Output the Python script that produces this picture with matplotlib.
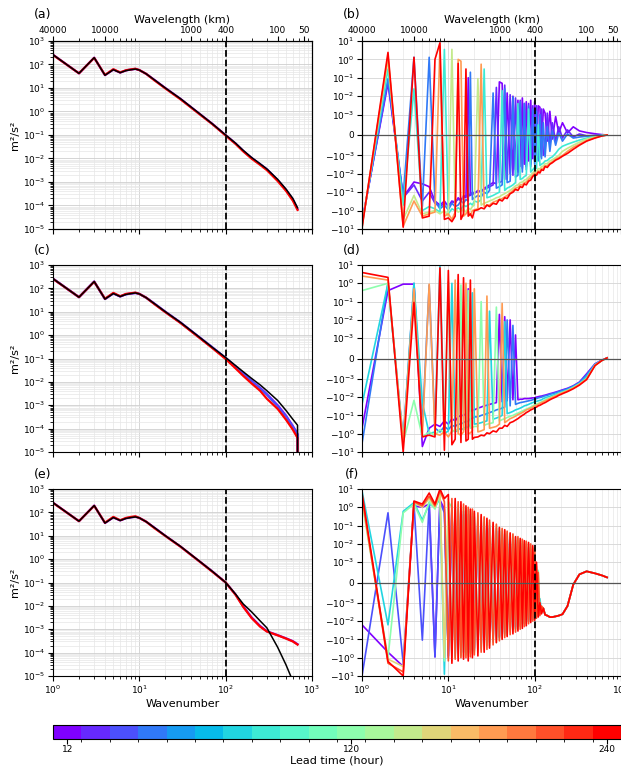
import numpy as np
import matplotlib
matplotlib.use('Agg')
from matplotlib import pyplot as plt
from matplotlib.colors import ListedColormap, BoundaryNorm
from matplotlib.cm import ScalarMappable
from matplotlib.ticker import NullLocator, NullFormatter

# lead times shown on the colour bar (hours)
lead_hours = [12, 24, 36, 48, 60, 72, 84, 96, 108, 120,
              132, 144, 156, 168, 180, 192, 204, 216, 228, 240]

# ---- left column: spectra (m2/s2) ----
k_left = [1, 2, 3, 4, 5, 6, 7, 8, 9, 10, 12, 15, 20, 30, 50, 70, 100,
          130, 160, 200, 250, 300, 400, 500, 600, 680]
ref_a = [260, 42, 195, 35, 60, 45, 55, 60, 64, 58, 40, 22, 10, 3.5, 0.8, 0.3, 0.1,
         0.045, 0.022, 0.011, 0.006, 0.0036, 0.0013, 0.0005, 0.0002, 0.00008]
a_12 = [260, 42, 195, 35, 61, 45, 56, 61, 65, 58, 40, 22, 10, 3.45, 0.79, 0.3, 0.098,
        0.044, 0.021, 0.0105, 0.0058, 0.0035, 0.0012, 0.00046, 0.00018, 0.00007]
a_240 = [255, 42, 192, 36, 63, 46, 57, 62, 66, 58, 40, 21, 9.6, 3.3, 0.76, 0.29, 0.095,
         0.042, 0.02, 0.0098, 0.0054, 0.0032, 0.0011, 0.00042, 0.00016, 0.000065]

k_c = k_left + [681]
ref_c = [260, 42, 195, 35, 60, 45, 55, 60, 64, 58, 40, 22, 10, 3.5, 0.8, 0.3, 0.11,
         0.05, 0.027, 0.014, 0.0075, 0.0042, 0.0016, 0.0006, 0.00025, 0.00014, 0.000001]
c_12 = [260, 42, 195, 35, 61, 45, 56, 60, 64, 58, 40, 22, 10, 3.45, 0.79, 0.3, 0.105,
        0.046, 0.023, 0.011, 0.0056, 0.003, 0.001, 0.00036, 0.00013, 0.00006, 0.000001]
c_36 = [260, 42, 195, 35, 61, 45, 56, 60, 64, 58, 40, 22, 10, 3.45, 0.79, 0.3, 0.103,
        0.045, 0.022, 0.0105, 0.0053, 0.0028, 0.0009, 0.00033, 0.00012, 0.000055, 0.000001]
c_240 = [255, 42, 192, 36, 64, 46, 58, 62, 66, 58, 40, 21, 9.6, 3.3, 0.75, 0.28, 0.095,
         0.038, 0.018, 0.0085, 0.0042, 0.0019, 0.0007, 0.00024, 0.00009, 0.00004, 0.000001]

ref_e = [260, 42, 195, 35, 60, 45, 55, 60, 64, 58, 40, 22, 10, 3.5, 0.8, 0.3, 0.1,
         0.032, 0.012, 0.0055, 0.0023, 0.00115, 0.00017, 0.00003, 0.000006, 0.000002]
e_12 = [260, 42, 195, 35, 61, 45, 56, 61, 65, 58, 40, 22, 10, 3.45, 0.79, 0.3, 0.1,
        0.031, 0.0095, 0.0032, 0.0014, 0.00082, 0.00056, 0.00041, 0.00031, 0.00023]
e_240 = [255, 42, 192, 36, 64, 46, 58, 64, 68, 58, 40, 21, 9.8, 3.4, 0.78, 0.29, 0.1,
         0.03, 0.009, 0.003, 0.0013, 0.0008, 0.00055, 0.0004, 0.0003, 0.00022]

# ---- right column: differences (symlog) ----
k_right = [1, 2, 3, 4, 5, 6, 7, 8, 9, 10,
           11, 12, 13, 14, 15, 16, 17, 18, 19, 20,
           22, 24, 26, 28, 30, 33, 36, 39, 42, 45,
           48, 52, 56, 60, 64, 68, 72, 76, 80, 85,
           90, 95, 100, 105, 110, 115, 120, 126, 132, 140,
           150, 160, 175, 190, 210, 240, 280, 330, 400, 500,
           600, 690]

b_12 = [-4, 0.05, -0.18, -0.028, -0.035, -0.05, -0.3, -0.5, -0.3, -0.6,
        -0.3, -0.4, -0.2, -0.3, -0.15, -0.2, 0.1, -0.15, -0.1, -0.12,
        -0.08, -0.1, -0.06, -0.05, -0.04, -0.03, -0.035, 0.06, 0.05, -0.02,
        0.015, -0.01, 0.01, -0.006, 0.006, -0.004, 0.008, -0.003, 0.005, -0.002,
        0.006, -0.0015, 0.005, -0.001, 0.003, 0.0025, -0.0006, 0.002, 0.0012, -0.0003,
        0.0015, -0.0002, 0.0009, 0.0001, 0.0006, 0.0001, 0.0004, 0.0002, 0.00012, 0.00006,
        0.00002, 0.0]
b_24 = [-4.5, 0.07, -0.2, -0.04, -0.3, -0.1, -0.4, -0.6, -0.4, -0.5,
        -0.35, -0.3, -0.25, -0.25, -0.2, -0.15, -0.18, -0.12, -0.14, -0.1,
        -0.1, -0.08, -0.07, -0.06, -0.05, -0.04, 0.03, -0.03, -0.025, 0.04,
        -0.02, 0.012, -0.012, 0.008, -0.008, 0.006, -0.005, 0.004, -0.004, 0.004,
        -0.003, 0.003, -0.002, 0.003, -0.0015, -0.0012, 0.002, -0.001, -0.0008, 0.0012,
        -0.0005, 0.0006, -0.0003, 0.0004, -0.00015, 0.00025, -0.0001, 0.00005, -0.00004, -0.00002,
        -0.00001, 0.0]
b_48 = [-5, 0.09, -0.17, 1.3, -0.6, 1.3, -0.3, -0.8, -0.5, -0.9,
        -0.4, -0.6, -0.5, -0.3, -0.4, -0.25, -0.3, 0.2, -0.25, -0.2,
        -0.15, -0.18, -0.1, -0.12, -0.08, 0.015, -0.06, -0.05, -0.04, 0.025,
        -0.03, -0.025, 0.009, -0.015, -0.012, 0.005, -0.008, 0.004, -0.006, 0.003,
        -0.004, 0.002, -0.003, 0.0015, -0.002, 0.001, -0.0015, 0.0006, -0.0012, 0.0004,
        -0.0008, 0.0002, -0.0005, 0.0001, -0.0003, 0.00005, -0.00015, -0.0001, -0.00006, -0.00003,
        -0.00001, 0.0]
b_96 = [-6, 0.3, -0.5, 0.025, -1, -0.6, -0.8, -1.2, 3.5, -1.5,
        -0.8, -1, -0.7, -0.9, -0.5, -0.6, -0.5, -0.4, -0.5, -0.3,
        -0.35, -0.25, 0.3, -0.2, -0.18, -0.15, -0.12, -0.1, 0.02, -0.08,
        -0.06, -0.05, -0.04, -0.03, 0.004, -0.02, -0.018, -0.014, -0.012, 0.002,
        -0.008, -0.006, -0.0045, -0.005, 0.0005, -0.0035, -0.003, -0.0026, -0.002, -0.0019,
        -0.0014, -0.0012, -0.0009, -0.0007, -0.00055, -0.00045, -0.00035, -0.00025, -0.00015, -0.00007,
        -0.00002, 0.0]
b_156 = [-7, 1.0, -3, -0.15, -1.5, -1.2, -1, -1.5, -1, -2,
         3.5, -0.8, -1.2, -1, -0.9, -1.2, -0.7, -0.9, -0.6, -0.5,
         0.09, -0.5, -0.4, -0.35, -0.3, -0.25, -0.2, -0.18, -0.14, -0.12,
         -0.1, -0.08, -0.06, -0.045, -0.04, -0.03, -0.028, -0.022, -0.02, -0.015,
         -0.012, -0.009, -0.0068, -0.007, -0.0052, -0.0055, -0.004, -0.0038, -0.0028, -0.0028,
         -0.002, -0.0017, -0.0013, -0.001, -0.0008, -0.00065, -0.0005, -0.00035, -0.0002, -0.0001,
         -0.00003, 0.0]
b_192 = [-8, 1.5, -7, -0.3, -2, -1.5, -1.2, 5, -2, -1.5,
         -3, -1.2, 1.0, 0.8, -2, -1.5, -1, -1.8, -1, -0.9,
         -0.8, 0.55, -0.6, -0.5, -0.5, -0.35, -0.3, -0.25, -0.22, -0.18,
         -0.15, -0.11, -0.08, -0.06, -0.055, -0.04, -0.04, -0.03, -0.028, -0.02,
         -0.016, -0.012, -0.009, -0.0095, -0.007, -0.0075, -0.0052, -0.005, -0.0037, -0.0036,
         -0.0027, -0.0022, -0.0016, -0.0013, -0.001, -0.0008, -0.0006, -0.00045, -0.00027, -0.00013,
         -0.00004, 0.0]
b_240 = [-9, 2.4, -8, 1.3, -2.5, -2, 1.0, 8, -3, -2.5,
         -4, -2, 0.6, -3, -1.5, 0.3, -2, -1.5, -2.5, -1.0,
         -0.9, -0.7, -0.8, -0.5, -0.6, -0.4, -0.45, -0.25, -0.3, -0.2,
         -0.22, -0.12, -0.1, -0.07, -0.08, -0.05, -0.055, -0.035, -0.04, -0.025,
         -0.022, -0.014, -0.011, -0.012, -0.008, -0.009, -0.006, -0.0065, -0.004, -0.0045,
         -0.003, -0.0025, -0.0018, -0.0015, -0.0011, -0.0009, -0.0007, -0.0005, -0.0003, -0.00015,
         -0.00005, 0.0]

d_12 = [-0.5, 0.4, 0.9, 0.9, -5, -0.5, -0.3, -0.4, -0.2, -0.3,
        -0.15, -0.2, -0.12, -0.1, -0.1, -0.08, 0.5, -0.06, -0.05, -0.05,
        -0.04, -0.035, -0.03, -0.028, -0.025, -0.022, -0.02, 0.02, -0.018, 0.015,
        -0.016, 0.01, -0.014, 0.0015, -0.014, -0.013, -0.013, -0.012, -0.012, -0.012,
        -0.0115, -0.011, -0.011, -0.01, -0.0095, -0.009, -0.0088, -0.0082, -0.0078, -0.0072,
        -0.0065, -0.006, -0.0053, -0.0047, -0.004, -0.0033, -0.0024, -0.0015, -0.00075, -0.00026,
        -0.00008, 0.00003]
d_48 = [-3.5, 1.0, -2, 1.0, -0.4, 0.8, -0.5, -0.8, -0.4, -0.6,
        -0.35, -0.4, -0.3, -0.3, -0.25, -0.2, -0.22, -0.15, -0.15, -0.12,
        -0.12, -0.1, -0.09, -0.08, -0.07, -0.06, -0.05, -0.045, -0.04, -0.035,
        0.01, -0.03, 0.005, -0.025, -0.022, -0.02, -0.019, -0.018, -0.017, -0.016,
        -0.015, -0.014, -0.013, -0.012, -0.011, -0.0105, -0.01, -0.009, -0.0085, -0.008,
        -0.007, -0.0065, -0.0058, -0.005, -0.0043, -0.0035, -0.0025, -0.0016, -0.0008, -0.00028,
        -0.00009, 0.00003]
d_84 = [-0.025, 1.0, -3, 1.0, -0.02, -1, -0.8, 10, -1, -0.7,
        1, -0.8, -0.6, -0.5, -0.6, -0.4, -0.45, -0.3, 0.3, -0.3,
        -0.28, -0.25, -0.22, -0.2, 0.03, -0.16, -0.14, -0.12, -0.1, 0.008,
        -0.08, -0.07, -0.06, -0.05, -0.045, -0.04, -0.035, -0.03, -0.028, -0.025,
        -0.022, -0.02, -0.018, -0.017, -0.016, -0.015, -0.014, -0.012, -0.011, -0.01,
        -0.009, -0.008, -0.007, -0.006, -0.005, -0.004, -0.0028, -0.0018, -0.0009, -0.0003,
        -0.0001, 0.00003]
d_132 = [0.4, 1.0, -3, -0.015, -1.5, -0.8, -1.2, -0.6, -1, 1.2,
         -0.8, -0.6, -0.7, 0.8, -0.6, -0.5, 0.4, -0.5, -0.45, -0.4,
         -0.4, 0.1, -0.35, -0.3, -0.28, -0.25, 0.05, -0.2, -0.17, -0.15,
         -0.13, -0.11, -0.1, -0.085, -0.075, -0.065, -0.058, -0.05, -0.045, -0.04,
         -0.035, -0.03, -0.026, -0.024, -0.022, -0.02, -0.018, -0.016, -0.014, -0.012,
         -0.011, -0.0095, -0.008, -0.0066, -0.0055, -0.0043, -0.003, -0.0019, -0.001, -0.00033,
         -0.0001, 0.00003]
d_192 = [2.5, 1.5, -3, 0.5, -1.2, 0.9, -1, -1.2, -0.8, -1.5,
         -0.7, 1.5, -1, -1.2, -0.8, 1, -1, -0.9, -0.7, 0.5,
         -0.8, -0.7, -0.6, 0.2, -0.5, -0.45, -0.4, -0.3, 0.08, -0.25,
         -0.2, -0.15, -0.13, -0.11, -0.09, -0.08, -0.07, -0.06, -0.05, -0.045,
         -0.04, -0.035, -0.03, -0.028, -0.025, -0.022, -0.02, -0.018, -0.016, -0.014,
         -0.012, -0.01, -0.0085, -0.007, -0.0058, -0.0045, -0.0032, -0.002, -0.001, -0.00033,
         -0.0001, 0.00003]
d_240 = [3.9, 2.1, -10, 0.09, -1.5, -1.2, -1.5, 7, -8, 5,
         -4, -2, 3, -3, 2, -2.5, -2, 1.5, -2, -1.6,
         -1.5, -1.2, -1.3, -0.9, -1, -0.7, -0.8, -0.5, -0.5, -0.35,
         -0.4, -0.25, -0.22, -0.18, -0.15, -0.12, -0.1, -0.085, -0.07, -0.06,
         -0.05, -0.045, -0.038, -0.035, -0.03, -0.028, -0.025, -0.022, -0.02, -0.017,
         -0.014, -0.012, -0.01, -0.008, -0.0065, -0.005, -0.0035, -0.0022, -0.0011, -0.00035,
         -0.0001, 0.00003]

# panel (f): oscillating part up to k=120, then a common tail
f_12 = [-0.016, -0.5, -3, 1.2, 1.0, 1.5, -0.9, 2.5, 0.8, -0.8,
        0.8, -0.6, 0.6, -0.5, 0.4, -0.4, 0.3, -0.35, 0.2, -0.3,
        0.15, -0.2, 0.1, -0.15, 0.07, -0.1, 0.05, -0.07, 0.03, -0.04,
        0.02, -0.03, 0.015, -0.02, 0.01, -0.015, 0.007, -0.01, 0.005, -0.008,
        0.004, -0.006, 0.002, -0.005, -0.0008, -0.004, -0.002]
f_36 = [-10, 0.5, -2, 1.5, -0.11, 1.8, -0.9, 2, 0.5, -1,
        1, -0.8, 0.8, -0.7, 0.6, -0.6, 0.4, -0.5, 0.3, -0.4,
        0.2, -0.3, 0.15, -0.2, 0.1, -0.13, 0.07, -0.08, 0.04, -0.05,
        0.03, -0.035, 0.02, -0.025, 0.014, -0.018, 0.01, -0.013, 0.007, -0.01,
        0.005, -0.008, 0.003, -0.006, -0.001, -0.004, -0.0025]
f_84 = [8, -0.016, 0.6, 1.8, 0.2, 1.5, 1, 3, -8, 1.5,
        -0.8, 1.2, -0.6, 0.9, -0.5, 0.6, -0.5, 0.4, -0.4, 0.3,
        -0.3, 0.2, -0.2, 0.14, -0.14, 0.09, -0.1, 0.05, -0.06, 0.035,
        -0.04, 0.025, -0.03, 0.016, -0.02, 0.012, -0.014, 0.009, -0.01, 0.006,
        -0.008, 0.004, -0.006, 0.0005, -0.004, -0.0008, -0.003]
f_132 = [2, -1, 0.5, 1.5, 0.15, 2, 0.8, 5, -1.5, 2,
         1, -1, 1.5, -0.8, 1, -0.7, 0.7, -0.6, 0.5, -0.5,
         0.35, -0.35, 0.25, -0.22, 0.15, -0.14, 0.1, -0.09, 0.06, -0.06,
         0.04, -0.04, 0.03, -0.028, 0.02, -0.02, 0.014, -0.014, 0.01, -0.01,
         0.007, -0.007, 0.005, -0.005, 0.0006, -0.004, -0.002]
f_168 = [2.5, -1.2, -3, 1.8, 1, 3, 1, 6, -1, 3,
         -1.5, 2, -1, 1.2, -0.9, 0.9, -0.8, 0.6, -0.6, 0.45,
         -0.5, 0.3, -0.35, 0.2, -0.22, 0.12, -0.15, 0.07, -0.09, 0.05,
         -0.06, 0.035, -0.04, 0.022, -0.028, 0.016, -0.02, 0.012, -0.014, 0.009,
         -0.01, 0.006, -0.007, 0.0008, -0.005, -0.001, -0.0035]
f_216 = [4, -2, -6, 2, 1.2, 4, 1.2, 8, 2, -1.5,
         3, -1.2, 2, -1, 1.5, -1, 1, -0.9, 0.8, -0.7,
         0.5, -0.5, 0.3, -0.35, 0.2, -0.2, 0.12, -0.12, 0.07, -0.08,
         0.05, -0.055, 0.035, -0.04, 0.025, -0.028, 0.018, -0.02, 0.014, -0.014,
         0.01, -0.01, 0.006, -0.007, 0.0005, -0.005, -0.0015]
f_240 = [6, -1.6, -10, 2.2, 1.5, 6, 1.5, 10, 3, 5,
         -2, 3, -1.5, 2, -1.2, 1.2, -1.5, 0.8, -1, 0.6,
         -0.8, 0.4, -0.5, 0.25, -0.3, 0.15, -0.15, 0.08, -0.1, 0.06,
         -0.07, 0.04, -0.05, 0.025, -0.035, 0.02, -0.025, 0.015, -0.018, 0.012,
         -0.012, 0.008, -0.009, 0.001, -0.006, -0.001, -0.004]
f_tail = [-0.002, -0.0045, -0.005, -0.006, -0.006, -0.0055, -0.005, -0.0042,
          -0.0015, -0.0001, 0.0004, 0.00055, 0.00045, 0.00035, 0.00025]

# top axis: wavelength labels at the matching wavenumbers
top_k = [1, 4, 40, 100, 400, 800]
top_labels = ['40000', '10000', '1000', '400', '100', '50']

sym_ticks = [-10, -1, -0.1, -0.01, -0.001, 0, 0.001, 0.01, 0.1, 1, 10]
sym_labels = ['$-10^{1}$', '$-10^{0}$', '$-10^{-1}$', '$-10^{-2}$', '$-10^{-3}$', '0',
              '$10^{-3}$', '$10^{-2}$', '$10^{-1}$', '$10^{0}$', '$10^{1}$']

colors = plt.cm.rainbow(np.linspace(0, 1, len(lead_hours)))


def lead_color(h):
    return colors[lead_hours.index(h)]


left_panels = [
    ('(a)', k_left, ref_a, [(12, a_12), (240, a_240)]),
    ('(c)', k_c, ref_c, [(12, c_12), (36, c_36), (240, c_240)]),
    ('(e)', k_left, ref_e, [(12, e_12), (240, e_240)]),
]
right_panels = [
    ('(b)', [(12, b_12), (24, b_24), (48, b_48), (96, b_96), (156, b_156),
             (192, b_192), (240, b_240)]),
    ('(d)', [(12, d_12), (48, d_48), (84, d_84), (132, d_132), (192, d_192),
             (240, d_240)]),
    ('(f)', [(12, f_12 + f_tail), (36, f_36 + f_tail), (84, f_84 + f_tail),
             (132, f_132 + f_tail), (168, f_168 + f_tail), (216, f_216 + f_tail),
             (240, f_240 + f_tail)]),
]

W, H = 621, 769
fig = plt.figure(figsize=(W / 100, H / 100), dpi=100)
rows_px = [(41, 229), (265, 452), (489, 676)]
lefts_px = [53, 362]
width_px = 259

tick_fs = 6.5
label_fs = 8

for r, (top_px, bot_px) in enumerate(rows_px):
    rect_l = [lefts_px[0] / W, 1 - bot_px / H, width_px / W, (bot_px - top_px) / H]
    rect_r = [lefts_px[1] / W, 1 - bot_px / H, width_px / W, (bot_px - top_px) / H]

    # left: spectra
    name, kk, ref, series = left_panels[r]
    ax = fig.add_axes(rect_l)
    for h, vals in series:
        ax.plot(kk, vals, color=lead_color(h), lw=1.6)
    ax.plot(kk, ref, color='k', lw=1.1)
    ax.set_xscale('log')
    ax.set_yscale('log')
    ax.set_xlim(1, 1000)
    ax.set_ylim(1e-5, 1e3)
    ax.set_yticks([10.0 ** i for i in range(-5, 4)])
    ax.axvline(100, color='k', ls='--', lw=1.3)
    ax.grid(True, which='major', color='#cfcfcf', lw=0.6)
    ax.grid(True, which='minor', color='#e6e6e6', lw=0.5)
    ax.set_ylabel('m²/s²', fontsize=label_fs, labelpad=2)
    ax.tick_params(labelsize=tick_fs, pad=2)
    ax.text(-0.04, 1.14 if r == 0 else 1.08, name, transform=ax.transAxes,
            fontsize=9, ha='center', va='center')
    if r == 2:
        ax.set_xlabel('Wavenumber', fontsize=label_fs, labelpad=2)
    else:
        ax.xaxis.set_major_formatter(NullFormatter())
    left_ax = ax

    # right: differences
    name, series = right_panels[r]
    ax = fig.add_axes(rect_r)
    for h, vals in series:
        ax.plot(k_right, vals, color=lead_color(h), lw=1.2)
    ax.set_xscale('log')
    ax.set_yscale('symlog', linthresh=1e-3, linscale=1)
    ax.set_xlim(1, 1000)
    ax.set_ylim(-10, 10)
    ax.set_yticks(sym_ticks)
    ax.set_yticklabels(sym_labels)
    ax.yaxis.set_minor_locator(NullLocator())
    ax.axhline(0, color='#555555', lw=0.9)
    ax.axvline(100, color='k', ls='--', lw=1.3)
    ax.grid(True, which='major', color='#d5d5d5', lw=0.6)
    ax.grid(True, which='minor', axis='x', color='#e8e8e8', lw=0.5)
    ax.tick_params(labelsize=tick_fs, pad=2)
    ax.text(-0.04, 1.14 if r == 0 else 1.08, name, transform=ax.transAxes,
            fontsize=9, ha='center', va='center')
    if r == 2:
        ax.set_xlabel('Wavenumber', fontsize=label_fs, labelpad=2)
    else:
        ax.xaxis.set_major_formatter(NullFormatter())

    if r == 0:
        for a in (left_ax, ax):
            top = a.twiny()
            top.set_xscale('log')
            top.set_xlim(1, 1000)
            top.set_xticks(top_k)
            top.set_xticklabels(top_labels)
            top.tick_params(labelsize=tick_fs, pad=1)
            top.set_xlabel('Wavelength (km)', fontsize=label_fs, labelpad=2)

# colour bar
cmap = ListedColormap(colors)
norm = BoundaryNorm(np.arange(len(lead_hours) + 1), cmap.N)
cax = fig.add_axes([53 / W, 1 - 739 / H, (W - 53) / W, 14 / H])
cb = fig.colorbar(ScalarMappable(norm=norm, cmap=cmap), cax=cax,
                  orientation='horizontal')
cb.set_ticks([0.5, 10.5, 19.5])
cb.set_ticklabels(['12', '120', '240'])
cb.ax.set_xticks(np.arange(1, len(lead_hours)), minor=True)
cb.ax.tick_params(labelsize=tick_fs, pad=1)
cb.set_label('Lead time (hour)', fontsize=label_fs, labelpad=1)

fig.savefig('out.png', dpi=100)
